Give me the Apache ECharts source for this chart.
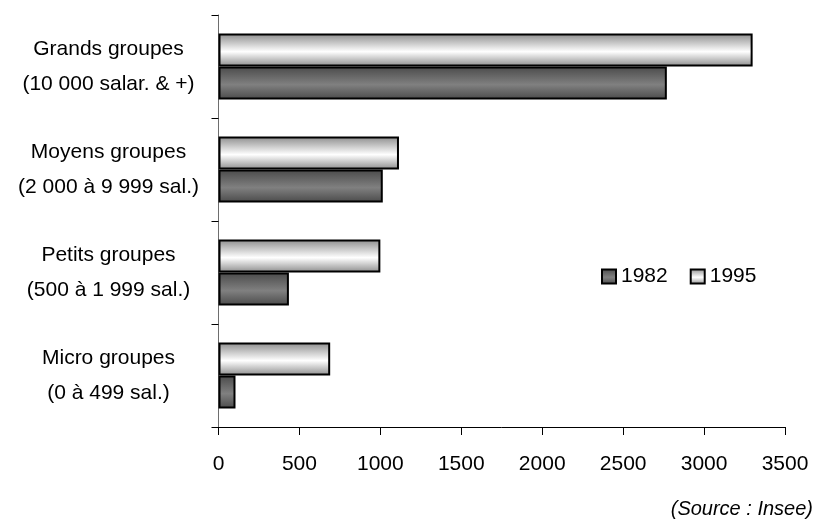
<!DOCTYPE html>
<html>
<head>
<meta charset="utf-8">
<script src="https://cdn.jsdelivr.net/npm/echarts@6/dist/echarts.min.js"></script>
<style>
  html, body { margin: 0; padding: 0; background: #fff; }
  #chart { width: 827px; height: 529px; }
</style>
</head>
<body>
<div id="chart"></div>
<script>
// Groupes d'entreprises par taille
const categories = [
  'Grands groupes\n(10 000 salar. & +)',
  'Moyens groupes\n(2 000 à 9 999 sal.)',
  'Petits groupes\n(500 à 1 999 sal.)',
  'Micro groupes\n(0 à 499 sal.)'
];
const years = ['1982', '1995'];
const values1982 = [2770, 1015, 435, 105];
const values1995 = [3300, 1115, 1000, 690];
const xTicks = [0, 500, 1000, 1500, 2000, 2500, 3000, 3500];

const FONT = '"Liberation Sans", Arial, sans-serif';

function shade(edge, mid) {
  return new echarts.graphic.LinearGradient(0, 0, 0, 1, [
    { offset: 0, color: edge },
    { offset: 0.55, color: mid },
    { offset: 1, color: edge }
  ]);
}

const chart = echarts.init(document.getElementById('chart'), null, { renderer: 'canvas' });

const styleOf = {
  '1982': { color: shade('#4a4a4a', '#808080'), borderColor: '#000', borderWidth: 2 },
  '1995': { color: shade('#8c8c8c', '#ffffff'), borderColor: '#000', borderWidth: 2 }
};

chart.setOption({
  animation: false,
  backgroundColor: '#ffffff',
  grid: { left: 218.5, right: 42, top: 15, bottom: 102, containLabel: false },
  legend: {
    data: years,
    left: 601,
    top: 266,
    padding: 0,
    icon: 'rect',
    itemWidth: 14,
    itemHeight: 14,
    itemGap: 22,
    textStyle: { fontFamily: FONT, fontSize: 21, color: '#000' }
  },
  xAxis: {
    type: 'value',
    min: xTicks[0],
    max: xTicks[xTicks.length - 1],
    interval: xTicks[1] - xTicks[0],
    splitLine: { show: false },
    axisLine: { show: true, lineStyle: { color: '#000', width: 1 } },
    axisTick: { show: true, length: 8, lineStyle: { color: '#000' } },
    axisLabel: { fontFamily: FONT, fontSize: 21, color: '#000', margin: 27, formatter: v => String(v) }
  },
  yAxis: {
    type: 'category',
    data: categories,
    inverse: true,
    axisLine: { show: true, lineStyle: { color: '#6e6e6e', width: 1 } },
    axisTick: { show: true, length: 7, lineStyle: { color: '#000' } },
    axisLabel: {
      fontFamily: FONT, fontSize: 21, color: '#000',
      margin: 110, lineHeight: 35, align: 'center', padding: [6, 0, 0, 0]
    }
  },
  // 1995 listed first so that it sits above 1982 in each group
  series: [
    {
      name: '1995',
      type: 'bar',
      data: values1995,
      barWidth: 33,
      barGap: '0%',
      itemStyle: styleOf['1995']
    },
    {
      name: '1982',
      type: 'bar',
      data: values1982,
      barWidth: 33,
      barGap: '0%',
      itemStyle: styleOf['1982']
    }
  ],
  graphic: [
    {
      type: 'text',
      right: 14,
      top: 499,
      style: { text: '(Source : Insee)', fontFamily: FONT, fontStyle: 'italic', fontSize: 20, fill: '#000' }
    }
  ]
});
</script>
</body>
</html>
